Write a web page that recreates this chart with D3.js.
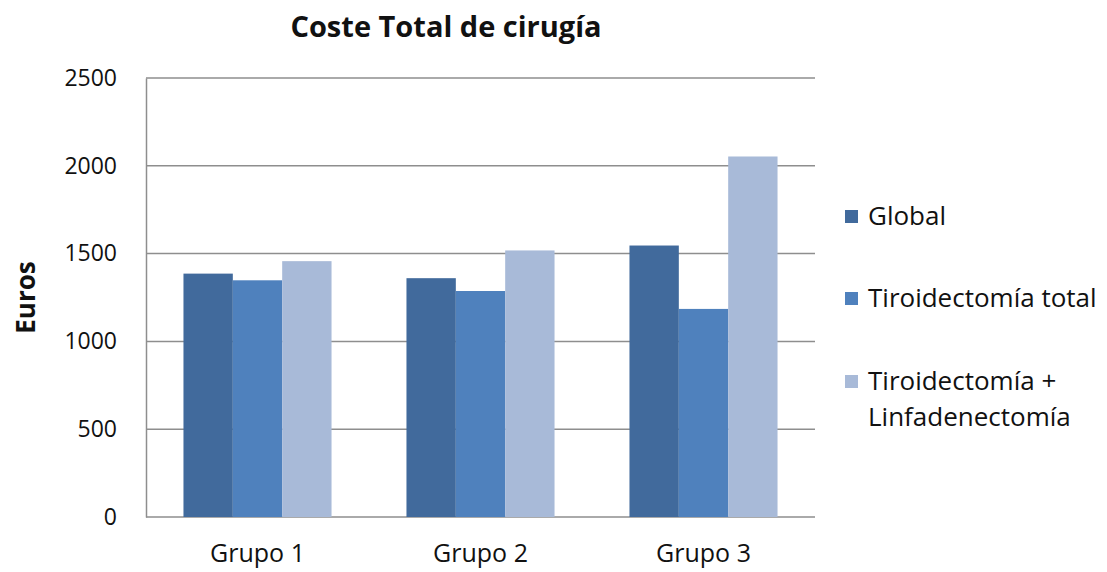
<!DOCTYPE html>
<html>
<head>
<meta charset="utf-8">
<script src="https://cdn.jsdelivr.net/npm/d3@7"></script>
<style>
  body { margin: 0; background: #fff; }
  text { font-family: "Open Sans", sans-serif; fill: #111; }
</style>
</head>
<body>
<div id="chart"></div>
<script>
// data
var grupos = ["Grupo 1", "Grupo 2", "Grupo 3"];
var series = ["Global", "Tiroidectomía total", "Tiroidectomía + Linfadenectomía"];
var global = [1386, 1360, 1546];
var tiroTotal = [1348, 1287, 1185];
var tiroLinfa = [1457, 1518, 2053];
var yTicks = [0, 500, 1000, 1500, 2000, 2500];
var colors = ["#416A9C", "#4F81BD", "#A8BAD8"];

var values = [global, tiroTotal, tiroLinfa];

var width = 1107, height = 572;
var margin = {left: 146, right: 292, top: 78, bottom: 55};

var svg = d3.select("#chart")
  .append("svg")
  .attr("width", width)
  .attr("height", height);

var x0 = d3.scaleBand()
  .domain(grupos)
  .range([margin.left, width - margin.right])
  .paddingInner(0.336)
  .paddingOuter(0.168);

var x1 = d3.scaleBand()
  .domain(d3.range(series.length))
  .range([0, x0.bandwidth()]);

var y = d3.scaleLinear()
  .domain([0, 2500])
  .range([height - margin.bottom, margin.top]);

// gridlines
svg.append("g")
  .selectAll("line")
  .data(yTicks)
  .enter()
  .append("line")
  .attr("x1", margin.left)
  .attr("x2", width - margin.right)
  .attr("y1", function(d){ return y(d) })
  .attr("y2", function(d){ return y(d) })
  .style("stroke", "#8e8e8e")
  .style("stroke-width", 1.5);

// bars
grupos.forEach(function(g, gi){
  svg.append("g")
    .attr("transform", "translate(" + x0(g) + ",0)")
    .selectAll("rect")
    .data(series)
    .enter()
    .append("rect")
    .attr("x", function(d, i){ return x1(i) })
    .attr("width", x1.bandwidth())
    .attr("y", function(d, i){ return y(values[i][gi]) })
    .attr("height", function(d, i){ return y(0) - y(values[i][gi]) })
    .attr("fill", function(d, i){ return colors[i] });
});

// y axis
var yAxis = svg.append("g")
  .attr("transform", "translate(" + margin.left + ",0)")
  .call(d3.axisLeft(y).tickValues(yTicks).tickFormat(d3.format("d")).tickSize(0).tickPadding(29));
yAxis.select(".domain").style("stroke", "#8e8e8e").style("stroke-width", 1.5);
yAxis.selectAll("text").style("font-size", "23px").style("font-family", "'Open Sans', sans-serif").style("fill", "#111");

// x axis
var xAxis = svg.append("g")
  .attr("transform", "translate(0," + y(0) + ")")
  .call(d3.axisBottom(x0).tickSize(0).tickPadding(27));
xAxis.select(".domain").remove();
xAxis.selectAll("text").style("font-size", "25px").style("font-family", "'Open Sans', sans-serif").style("fill", "#111");

// title
svg.append("text")
  .attr("x", 446)
  .attr("y", 37)
  .attr("text-anchor", "middle")
  .style("font-size", "29px")
  .style("font-weight", "bold")
  .text("Coste Total de cirugía");

// y label
svg.append("text")
  .attr("transform", "translate(35," + ((margin.top + height - margin.bottom) / 2) + ") rotate(-90)")
  .attr("text-anchor", "middle")
  .style("font-size", "26px")
  .style("font-weight", "bold")
  .text("Euros");

// legend
var legendLines = [["Global"], ["Tiroidectomía total"], ["Tiroidectomía +", "Linfadenectomía"]];
var legendY = [216, 298, 381];

var legend = svg.append("g")
  .selectAll("g")
  .data(legendLines)
  .enter()
  .append("g")
  .attr("transform", function(d, i){ return "translate(845," + legendY[i] + ")" });

legend.append("rect")
  .attr("x", 0)
  .attr("y", -6)
  .attr("width", 13)
  .attr("height", 13)
  .attr("fill", function(d, i){ return colors[i] });

legend.append("text")
  .attr("x", 23)
  .attr("y", 0)
  .style("font-size", "26px")
  .selectAll("tspan")
  .data(function(d){ return d })
  .enter()
  .append("tspan")
  .attr("x", 23)
  .attr("dy", function(d, i){ return i == 0 ? "0.36em" : "1.36em" })
  .text(function(d){ return d });
</script>
</body>
</html>
